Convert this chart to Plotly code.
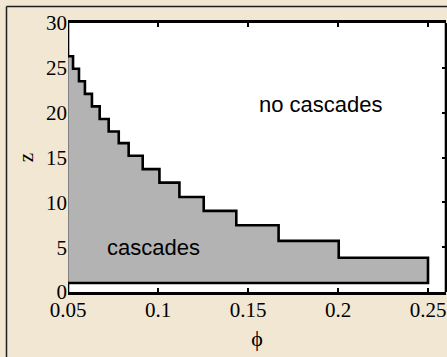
import plotly.graph_objects as go

# ---- data ----
phi_edges = [0.05, 0.0528, 0.0561, 0.0594, 0.0633, 0.0676, 0.0726, 0.0782, 0.0837,
             0.0915, 0.1008, 0.1119, 0.1254, 0.1435, 0.1670, 0.2004, 0.25]
z_levels = [26.3, 24.9, 23.5, 22.1, 20.7, 19.3, 17.9, 16.6, 15.2,
            13.7, 12.2, 10.6, 9.05, 7.45, 5.7, 3.82]
z_floor = 1.0

x_ticks = [0.05, 0.1, 0.15, 0.2, 0.25]
x_tick_labels = ["0.05", "0.1", "0.15", "0.2", "0.25"]
y_ticks = [0, 5, 10, 15, 20, 25, 30]
y_tick_labels = ["0", "5", "10", "15", "20", "25", "30"]
x_range = [0.05, 0.26]
y_range = [0, 30]

label_region_in = "cascades"
label_region_out = "no cascades"
label_in_pos = (0.0976, 5.0)
label_out_pos = (0.1904, 20.9)

# ---- build staircase ----
stair_x, stair_y = [], []
for i, z in enumerate(z_levels):
    stair_x += [phi_edges[i], phi_edges[i + 1]]
    stair_y += [z, z]

poly_x = [phi_edges[0]] + stair_x + [phi_edges[-1], phi_edges[0]]
poly_y = [z_floor] + stair_y + [z_floor, z_floor]

outline_x = [phi_edges[0]] + stair_x + [phi_edges[-1], phi_edges[0], phi_edges[0]]
outline_y = [y_range[1]] + stair_y + [z_floor, z_floor, y_range[0]]

fig = go.Figure()
fig.add_trace(go.Scatter(x=poly_x, y=poly_y, fill="toself", mode="lines",
                         fillcolor="rgb(179,179,179)",
                         line=dict(color="rgb(80,80,80)", width=1),
                         hoverinfo="skip", showlegend=False))
fig.add_trace(go.Scatter(x=outline_x, y=outline_y, mode="lines",
                         line=dict(color="black", width=2.6),
                         hoverinfo="skip", showlegend=False))

W, H = 447, 357
ml, mr, mt, mb = 68, 1, 23, 65
pw, ph = W - ml - mr, H - mt - mb

def px_x(p):
    return (p - ml) / pw

def px_y(p):
    return (H - mb - p) / ph

bg = "rgb(242,231,210)"
serif = "Liberation Serif"
sans = "Liberation Sans"

fig.update_layout(
    width=W, height=H,
    margin=dict(l=ml, r=mr, t=mt, b=mb),
    paper_bgcolor=bg, plot_bgcolor="white",
    font=dict(family=serif, size=21, color="black"),
    showlegend=False,
    xaxis=dict(range=x_range, tickvals=x_ticks, ticktext=x_tick_labels,
               ticks="inside", ticklen=4, tickwidth=1.5, tickcolor="black",
               showline=True, linewidth=2.6, linecolor="black", mirror="ticks",
               showgrid=False, zeroline=False, ticklabelstandoff=-3,
               tickfont=dict(family=serif, size=21),
               title=dict(text="ϕ", font=dict(family=serif, size=22), standoff=10)),
    yaxis=dict(range=y_range, tickvals=y_ticks, ticktext=y_tick_labels,
               ticks="inside", ticklen=4, tickwidth=1.5, tickcolor="black",
               showline=False, mirror="ticks", layer="below traces",
               showgrid=False, zeroline=False,
               tickfont=dict(family=serif, size=21),
               title=dict(text="z", font=dict(family=serif, size=21), standoff=6)),
    annotations=[
        dict(x=label_in_pos[0], y=label_in_pos[1], text=label_region_in,
             showarrow=False, font=dict(family=sans, size=22, color="black")),
        dict(x=label_out_pos[0], y=label_out_pos[1], text=label_region_out,
             showarrow=False, font=dict(family=sans, size=22, color="black")),
    ],
    shapes=[
        dict(type="line", xref="paper", yref="paper", x0=1, x1=1, y0=0, y1=1,
             line=dict(color="black", width=2.6)),
        dict(type="line", xref="paper", yref="paper",
             x0=px_x(6.5), x1=px_x(6.5), y0=px_y(6.5), y1=px_y(H),
             line=dict(color="rgb(30,30,30)", width=1.5)),
        dict(type="line", xref="paper", yref="paper",
             x0=px_x(6.5), x1=px_x(W), y0=px_y(6.5), y1=px_y(6.5),
             line=dict(color="rgb(30,30,30)", width=1.5)),
    ],
)

fig.write_html("out.html", config={"displayModeBar": False},
               post_script="document.body.style.margin='0';document.body.style.padding='0';")
